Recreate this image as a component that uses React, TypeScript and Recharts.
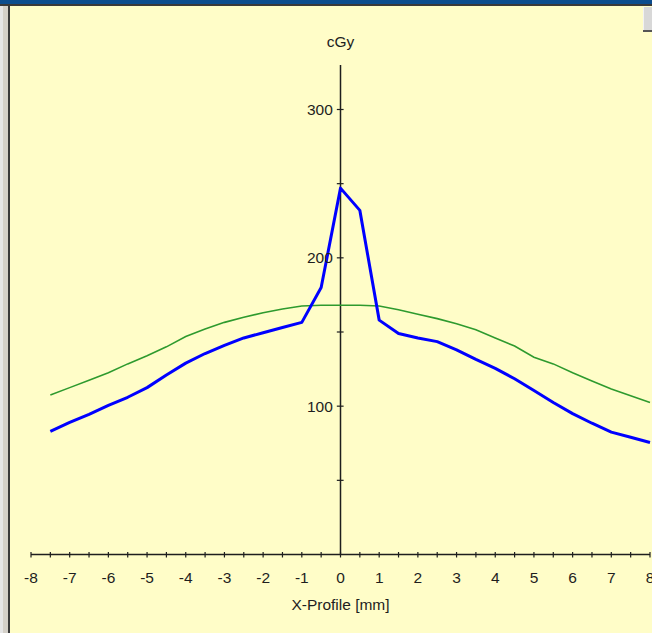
import { LineChart, Line, XAxis, YAxis, ReferenceLine } from 'recharts';

// profile positions in mm
const positions = [
  -7.5, -7, -6.5, -6, -5.5, -5, -4.5, -4, -3.5, -3, -2.5, -2, -1.5, -1, -0.5, 0,
  0.5, 1, 1.5, 2, 2.5, 3, 3.5, 4, 4.5, 5, 5.5, 6, 6.5, 7, 7.5, 8,
];

// blue (thick) dose profile, cGy
const blueDose = [
  83, 89, 94.5, 100.5, 106, 112.5, 121, 129, 135.5, 141, 146, 149.5, 153, 156.5, 180, 247,
  232, 158, 149, 146, 143.5, 138, 131.5, 125.5, 118.5, 110.5, 102.5, 95, 88.5, 82.5, 79, 75.5,
];

// green (thin) dose profile, cGy
const greenDose = [
  107.5, 112.5, 117.5, 122.5, 128.5, 134, 140, 147, 152, 156.5, 160, 163, 165.5, 167.5, 168, 168,
  168, 167.5, 165, 162, 159, 155.5, 151.5, 146, 140.5, 133, 128.5, 122.5, 117, 111.5, 107, 102.5,
];

const xTicks = [
  -8, -7.5, -7, -6.5, -6, -5.5, -5, -4.5, -4, -3.5, -3, -2.5, -2, -1.5, -1, -0.5, 0,
  0.5, 1, 1.5, 2, 2.5, 3, 3.5, 4, 4.5, 5, 5.5, 6, 6.5, 7, 7.5, 8,
];
const yTicks = [50, 100, 150, 200, 250, 300];
const yLabeled = [100, 200, 300];

const data = positions.map((mm, i) => ({ mm, blue: blueDose[i], green: greenDose[i] }));

const FONT = '"Liberation Sans", Arial, sans-serif';
const FS = 15.5;
const INK = '#1E1E1E';

const XTick = (props: any) => {
  const { x, y, payload } = props;
  const v = payload.value;
  return (
    <g>
      <line x1={x} x2={x} y1={y - 2.5} y2={y + 3} stroke={INK} strokeWidth={1.2} />
      {Number.isInteger(v) && (
        <text x={x} y={y + 28.5} textAnchor="middle" fill={INK} fontSize={FS} fontFamily={FONT}>
          {String(v)}
        </text>
      )}
    </g>
  );
};

export default function App() {
  return (
    <div style={{ position: 'fixed', left: 0, top: 0, width: 652, height: 633, background: '#D4D0C8', overflow: 'hidden' }}>
      {/* window chrome */}
      <div style={{ position: 'absolute', left: 0, top: 0, width: 652, height: 4, background: '#0C4D8E' }} />
      <div style={{ position: 'absolute', left: 0, top: 4, width: 652, height: 2, background: '#3A3A3A' }} />
      <div style={{ position: 'absolute', left: 0, top: 6, width: 3, height: 627, background: '#E6E6E6' }} />
      <div style={{ position: 'absolute', left: 8, top: 6, width: 2, height: 627, background: '#3A3A3A' }} />
      <div style={{ position: 'absolute', left: 10, top: 6, width: 642, height: 627, background: '#FFFDC8' }} />
      <div style={{ position: 'absolute', left: 643, top: 7, width: 9, height: 23, background: '#D8D8D8', borderLeft: '1px solid #F2F2F2' }} />
      <div style={{ position: 'absolute', left: 643, top: 30, width: 9, height: 2, background: '#555' }} />

      <div style={{ position: 'absolute', left: 0, top: 0 }}>
        <LineChart width={652} height={633} data={data} margin={{ top: 65, right: 2, left: 31, bottom: 48.5 }}>
          <XAxis
            dataKey="mm"
            type="number"
            domain={[-8, 8]}
            ticks={xTicks}
            interval={0}
            height={30}
            tickSize={0}
            tickMargin={0}
            tickLine={false}
            axisLine={{ stroke: INK, strokeWidth: 1.5 }}
            tick={<XTick />}
            label={{ value: 'X-Profile [mm]', position: 'bottom', offset: 14, fill: INK, fontSize: FS, fontFamily: FONT }}
          />
          <YAxis type="number" domain={[0, 330]} hide />
          <ReferenceLine
            x={0}
            stroke={INK}
            strokeWidth={1.5}
            label={{ value: 'cGy', position: 'top', offset: 18.5, fill: INK, fontSize: FS, fontFamily: FONT }}
          />
          {yTicks.map((t) => (
            <ReferenceLine
              key={t}
              segment={[{ x: -0.095, y: t }, { x: 0.08, y: t }]}
              stroke={INK}
              strokeWidth={1.2}
              label={
                yLabeled.includes(t)
                  ? { value: String(t), position: 'left', offset: 4, fill: INK, fontSize: FS, fontFamily: FONT }
                  : undefined
              }
            />
          ))}
          <Line
            type="linear"
            dataKey="green"
            stroke="#2E9A2E"
            strokeWidth={1.6}
            dot={false}
            isAnimationActive={false}
          />
          <Line
            type="linear"
            dataKey="blue"
            stroke="#0000FF"
            strokeWidth={3}
            strokeLinejoin="round"
            dot={false}
            isAnimationActive={false}
          />
        </LineChart>
      </div>
    </div>
  );
}
